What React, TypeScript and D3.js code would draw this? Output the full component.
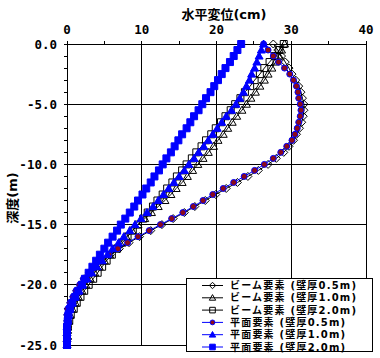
import React, { useRef, useEffect } from "react";
import * as d3 from "d3";

// depth (m)
const depth = [0, -0.5, -1, -1.5, -2, -2.5, -3, -3.5, -4, -4.5, -5, -5.5, -6, -6.5, -7, -7.5, -8, -8.5, -9, -9.5,
  -10, -10.5, -11, -11.5, -12, -12.5, -13, -13.5, -14, -14.5, -15, -15.5, -16, -16.5, -17, -17.5, -18, -18.5, -19, -19.5,
  -20, -20.5, -21, -21.5, -22, -22.5, -23, -23.5, -24, -24.5, -25];

// horizontal displacement (cm)
const beam05 = [27.6, 28.2, 28.7, 29.2, 29.7, 30.1, 30.6, 31.0, 31.3, 31.5, 31.7, 31.7, 31.6, 31.4, 31.1, 30.7, 30.3, 29.7, 29.0, 28.0,
  26.9, 25.6, 24.2, 22.8, 21.3, 19.9, 18.5, 17.1, 15.7, 14.2, 12.7, 11.2, 9.7, 8.3, 7.0, 5.8, 4.7, 3.8, 3.0, 2.3,
  1.8, 1.3, 0.9, 0.5, 0.2, 0.1, 0.1, 0.1, 0.1, 0.1, 0.0];
const beam10 = [29.1, 28.7, 28.3, 27.9, 27.4, 26.9, 26.4, 25.8, 25.2, 24.6, 24.0, 23.4, 22.7, 22.1, 21.5, 20.9, 20.2, 19.6, 18.9, 18.2,
  17.5, 16.8, 16.1, 15.4, 14.6, 13.9, 13.1, 12.2, 11.3, 10.4, 9.5, 8.7, 7.9, 7.1, 6.4, 5.7, 5.0, 4.3, 3.7, 3.1,
  2.5, 2.0, 1.5, 1.1, 0.7, 0.4, 0.2, 0.1, 0.0, 0.0, 0.0];
const beam20 = [29.0, 28.4, 27.8, 27.1, 26.4, 25.8, 25.1, 24.5, 23.8, 23.2, 22.5, 21.9, 21.2, 20.6, 19.9, 19.3, 18.6, 18.0, 17.3, 16.7,
  16.0, 15.4, 14.7, 14.1, 13.4, 12.8, 12.1, 11.5, 10.8, 10.2, 9.5, 8.8, 8.1, 7.4, 6.7, 6.0, 5.3, 4.7, 4.1, 3.5,
  2.9, 2.3, 1.8, 1.3, 0.9, 0.5, 0.3, 0.1, 0.0, 0.0, 0.0];
const plane05 = [26.3, 26.9, 27.6, 28.3, 29.1, 29.8, 30.3, 30.7, 30.9, 31.0, 31.2, 31.3, 31.2, 31.0, 30.8, 30.5, 30.1, 29.4, 28.6, 27.6,
  26.4, 25.1, 23.7, 22.3, 20.9, 19.5, 18.2, 16.9, 15.5, 14.0, 12.5, 11.0, 9.5, 8.1, 6.8, 5.6, 4.5, 3.7, 2.9, 2.2,
  1.7, 1.2, 0.8, 0.4, 0.1, 0.0, 0.0, 0.1, 0.1, 0.1, 0.0];
const plane10 = [26.3, 26.0, 25.7, 25.4, 25.1, 24.7, 24.4, 24.0, 23.6, 23.1, 22.6, 22.0, 21.3, 20.7, 20.1, 19.5, 18.9, 18.3, 17.6, 17.0,
  16.3, 15.7, 15.0, 14.3, 13.6, 12.9, 12.2, 11.5, 10.7, 9.9, 9.1, 8.4, 7.6, 6.9, 6.1, 5.4, 4.7, 4.0, 3.3, 2.7,
  2.1, 1.6, 1.1, 0.7, 0.4, 0.2, 0.1, 0.0, 0.0, 0.0, 0.0];
const plane20 = [23.3, 22.8, 22.3, 21.8, 21.2, 20.7, 20.2, 19.7, 19.2, 18.6, 18.1, 17.6, 17.0, 16.5, 16.0, 15.4, 14.9, 14.4, 13.9, 13.3,
  12.8, 12.3, 11.7, 11.2, 10.6, 10.1, 9.5, 9.0, 8.4, 7.8, 7.2, 6.7, 6.1, 5.5, 5.0, 4.4, 3.9, 3.4, 2.9, 2.4,
  2.0, 1.5, 1.1, 0.7, 0.4, 0.2, 0.1, 0.0, 0.0, 0.0, 0.0];

const seriesNames = ["ビーム要素 (壁厚0.5m)", "ビーム要素 (壁厚1.0m)", "ビーム要素 (壁厚2.0m)",
  "平面要素 (壁厚0.5m)", "平面要素 (壁厚1.0m)", "平面要素 (壁厚2.0m)"];
const xTicks = [0, 10, 20, 30, 40];
const yTicks = [0, -5, -10, -15, -20, -25];

const W = 380, H = 358;
const LEG = "'DejaVu Sans', 'Noto Sans CJK JP', sans-serif";
const MONO = "'DejaVu Sans Mono', monospace";

// marker path centred on 0,0
function markerPath(kind: string, k = 1) {
  if (kind == "diamond") return `M0,${-4 * k}L${4 * k},0L0,${4 * k}L${-4 * k},0Z`;
  if (kind == "triangle") return `M0,${-4 * k}L${4 * k},${3 * k}L${-4 * k},${3 * k}Z`;
  if (kind == "square") return `M${-3.5 * k},${-3.5 * k}H${3.5 * k}V${3.5 * k}H${-3.5 * k}Z`;
  const r = 3 * k;
  return `M${-r},0A${r},${r} 0 1,0 ${r},0A${r},${r} 0 1,0 ${-r},0Z`;
}

function Chart() {
  const ref = useRef<SVGSVGElement>(null);

  useEffect(() => {
    const svg = d3.select(ref.current);
    svg.selectAll("*").remove();

    const left = 67, right = 366, top = 44, bottom = 345;
    const x = d3.scaleLinear().domain([0, 40]).range([left, right]);
    const y = d3.scaleLinear().domain([0, -25]).range([top, bottom]);

    svg.append("rect").attr("width", W).attr("height", H).attr("fill", "#fff");

    // grid
    const g = svg.append("g").attr("shape-rendering", "crispEdges");
    g.selectAll(".gx").data(xTicks).enter().append("line")
      .attr("x1", d => x(d)).attr("x2", d => x(d)).attr("y1", top).attr("y2", bottom)
      .attr("stroke", "#000");
    g.selectAll(".gy").data(yTicks).enter().append("line")
      .attr("x1", left).attr("x2", right).attr("y1", d => y(d)).attr("y2", d => y(d))
      .attr("stroke", "#000");

    // ticks, outside
    const xMinor = d3.range(0, 41, 5);
    g.selectAll(".tx").data(xMinor).enter().append("line")
      .attr("x1", d => x(d)).attr("x2", d => x(d)).attr("y1", top - 3).attr("y2", top)
      .attr("stroke", "#000");
    const yMinor = d3.range(0, -26, -1);
    g.selectAll(".ty").data(yMinor).enter().append("line")
      .attr("x1", left - 3).attr("x2", left).attr("y1", d => y(d)).attr("y2", d => y(d))
      .attr("stroke", "#000");

    svg.selectAll(".xl").data(xTicks).enter().append("text")
      .attr("x", d => x(d)).attr("y", 34).attr("text-anchor", "middle")
      .attr("font-family", MONO).attr("font-weight", "bold").attr("font-size", 12.5)
      .text(d => String(d));
    svg.selectAll(".yl").data(yTicks).enter().append("text")
      .attr("x", 57).attr("y", d => y(d) + 4.5).attr("text-anchor", "end")
      .attr("font-family", MONO).attr("font-weight", "bold").attr("font-size", 12.5)
      .text(d => d.toFixed(1));

    svg.append("text").attr("x", 224).attr("y", 18.5).attr("text-anchor", "middle")
      .attr("font-family", LEG).attr("font-weight", "bold").attr("font-size", 13)
      .text("水平変位(cm)");
    svg.append("text").attr("transform", "translate(17,198) rotate(-90)").attr("text-anchor", "middle")
      .attr("font-family", LEG).attr("font-weight", "bold").attr("font-size", 13)
      .text("深度(m)");

    const series = [
      { v: beam05, stroke: "#000", marker: "diamond", fill: "none", mstroke: "#000" },
      { v: beam10, stroke: "#000", marker: "triangle", fill: "none", mstroke: "#000" },
      { v: beam20, stroke: "#000", marker: "square", fill: "none", mstroke: "#000" },
      { v: plane05, stroke: "#0000ff", marker: "circle", fill: "#8b0a1a", mstroke: "#0000ff" },
      { v: plane10, stroke: "#0000ff", marker: "triangle", fill: "#0000ff", mstroke: "#0000ff" },
      { v: plane20, stroke: "#0000ff", marker: "square", fill: "#0000ff", mstroke: "#0000ff" },
    ];

    const line = d3.line<number>()
      .x(d => x(d))
      .y((d, i) => y(depth[i]));

    series.forEach(s => {
      svg.append("path").datum(s.v)
        .attr("fill", "none").attr("stroke", s.stroke).attr("stroke-width", 1)
        .attr("d", line);
      svg.append("g").selectAll("path").data(s.v).enter().append("path")
        .attr("transform", (d, i) => "translate(" + x(d) + "," + y(depth[i]) + ")")
        .attr("d", markerPath(s.marker))
        .attr("fill", s.fill).attr("stroke", s.mstroke).attr("stroke-width", 1);
    });

    // legend
    const lg = svg.append("g");
    lg.append("rect").attr("x", 186.5).attr("y", 278.5).attr("width", 186).attr("height", 73)
      .attr("fill", "#fff").attr("stroke", "#000");
    series.forEach((s, i) => {
      const ly = 285.5 + i * 12.3;
      lg.append("line").attr("x1", 202).attr("x2", 223).attr("y1", ly).attr("y2", ly)
        .attr("stroke", s.stroke);
      lg.append("path").attr("transform", "translate(212.5," + ly + ")")
        .attr("d", markerPath(s.marker, 0.8))
        .attr("fill", s.fill).attr("stroke", s.mstroke);
      lg.append("text").attr("x", 230).attr("y", ly + 3.5)
        .attr("font-family", LEG).attr("font-weight", "bold").attr("font-size", 10)
        .attr("letter-spacing", 1.2)
        .text(seriesNames[i]);
    });
  }, []);

  return <svg ref={ref} width={W} height={H} style={{ position: "absolute", left: 0, top: 0 }} />;
}

export default function App() {
  return <Chart />;
}
